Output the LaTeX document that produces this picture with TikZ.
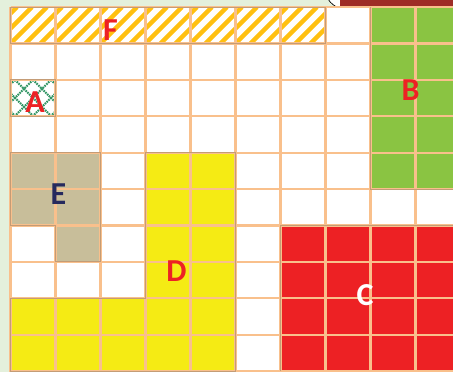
\documentclass[tikz,border=0pt]{standalone}
\usepackage{fontspec}
\setmainfont{Carlito}
\definecolor{bgg}{RGB}{228,240,220}
\definecolor{gridc}{RGB}{249,192,140}
\definecolor{edgec}{RGB}{196,156,118}
\definecolor{hatchy}{RGB}{255,192,16}
\definecolor{crossg}{RGB}{50,150,100}
\definecolor{greenb}{RGB}{138,196,66}
\definecolor{redc}{RGB}{237,33,36}
\definecolor{yelld}{RGB}{245,235,20}
\definecolor{tane}{RGB}{200,190,154}
\definecolor{navye}{RGB}{38,42,94}
\definecolor{darkred}{RGB}{158,44,38}
\tikzset{
  lbl/.style={font=\fontsize{32}{32}\selectfont\bfseries, inner sep=0pt},
  gridline/.style={draw=gridc, line width=2.3pt},
  regionedge/.style={draw=edgec, line width=0.9pt},
  crossline/.style={crossg, line width=2pt, dash pattern=on 1.6pt off 0.9pt},
}
\begin{document}
\begin{tikzpicture}[x=1pt,y=-1pt]
\useasboundingbox (0,0) rectangle (453,372);
\fill[bgg] (0,0) rectangle (453,372);
% top right decoration
\fill[white] (328,-1) .. controls (334,8) and (340,9.8) .. (355,9.8) -- (372,8) -- (372,-1) -- cycle;
\draw[black, line width=0.7pt] (328,-1) .. controls (334,8) and (340,9.8) .. (362,9.6);
\fill[darkred] (340,0) rectangle (453,6.3);
% grid area
\fill[white] (10.5,7.1) rectangle (460,372);
% F hatched
\begin{scope}
  \clip (10.5,7.1) rectangle (325.5,43.5);
  \foreach \i in {-3,...,22} {
    \draw[hatchy, line width=4.5pt] ({10.5+15*\i},43.5) -- ({10.5+15*\i+36.4},7.1);
  }
\end{scope}
% A cross-hatched
\begin{scope}
  \clip (10.5,79.9) rectangle (55.5,116.3);
  \foreach \i in {-1,...,5} {
    \draw[crossline] ({15+18*\i},79.9) -- ({15+18*\i-36.4},116.3);
    \draw[crossline] ({15+18*\i-36},79.9) -- ({15+18*\i+0.4},116.3);
  }
\end{scope}
% B green
\fill[greenb] (370.5,7.1) rectangle (460,189.1);
% C red
\fill[redc] (280.5,225.5) rectangle (460,371.1);
% D yellow
\fill[yelld] (145.5,152.7) -- (235.5,152.7) -- (235.5,371.1) -- (10.5,371.1) -- (10.5,298.3) -- (145.5,298.3) -- cycle;
% E tan
\fill[tane] (10.5,152.7) -- (100.5,152.7) -- (100.5,261.9) -- (55.5,261.9) -- (55.5,225.5) -- (10.5,225.5) -- cycle;
% grid lines
\foreach \x in {10.5,55.5,100.5,145.5,190.5,235.5,280.5,325.5,370.5,415.5} {
  \draw[gridline] (\x,7.1) -- (\x,372);
}
\foreach \y in {7.1,43.5,79.9,116.3,152.7,189.1,225.5,261.9,298.3,334.7,371.1} {
  \draw[gridline] (10.5,\y) -- (460,\y);
}
% region edges
\draw[regionedge] (10.5,7.1) rectangle (325.5,43.5);
\draw[regionedge] (10.5,79.9) rectangle (55.5,116.3);
\draw[regionedge] (370.5,7.1) -- (370.5,189.1) -- (460,189.1);
\draw[regionedge] (280.5,371.1) -- (280.5,225.5) -- (460,225.5);
\draw[regionedge] (145.5,152.7) -- (235.5,152.7) -- (235.5,371.1) -- (10.5,371.1) -- (10.5,298.3) -- (145.5,298.3) -- cycle;
\draw[regionedge] (10.5,152.7) -- (100.5,152.7) -- (100.5,261.9) -- (55.5,261.9) -- (55.5,225.5) -- (10.5,225.5) -- cycle;
% labels
\node[lbl, text=redc] (labF) at (110.5,30) {F};
\node[lbl, text=redc] (labA) at (35,102.5) {A};
\node[lbl, text=redc] (labB) at (410.5,90) {B};
\node[lbl, text=navye] (labE) at (58.5,194.5) {E};
\node[lbl, text=redc] (labD) at (176.5,271.5) {D};
\node[lbl, text=white] (labC) at (365,295) {C};
\end{tikzpicture}
\end{document}
